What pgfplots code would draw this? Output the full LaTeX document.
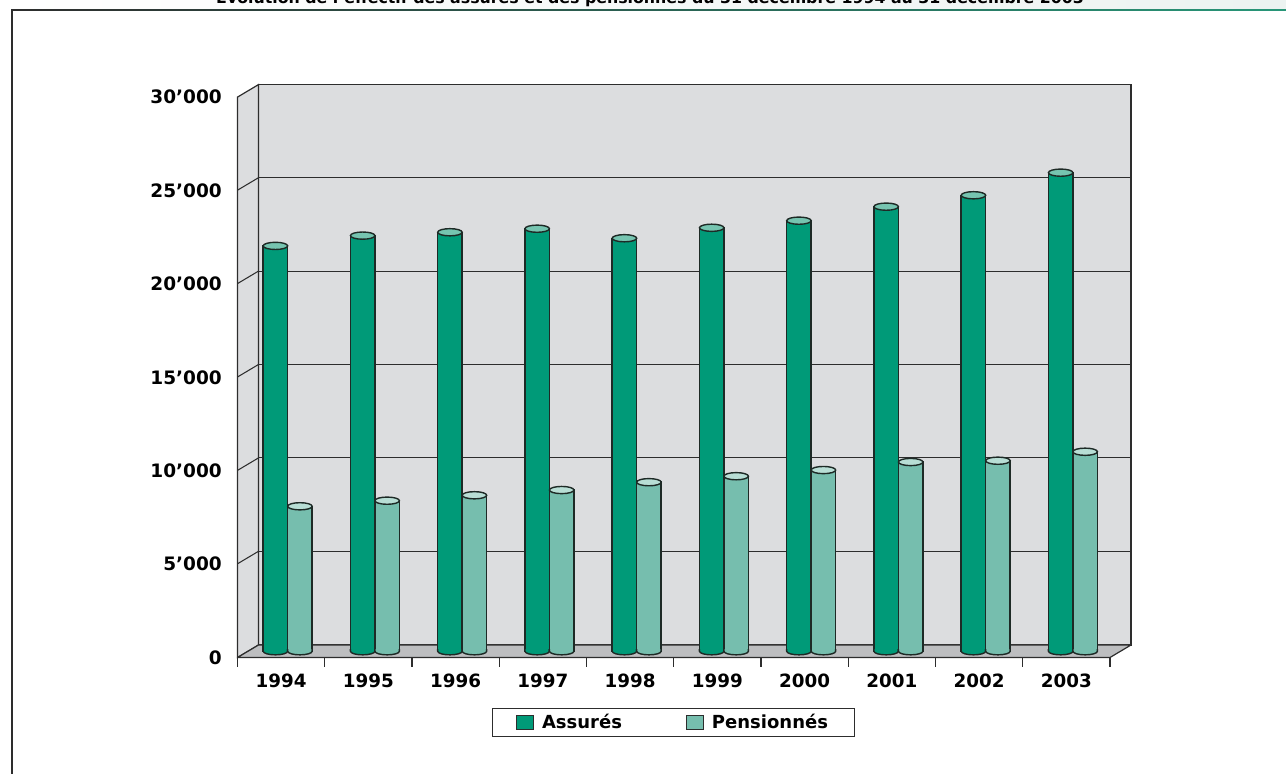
\documentclass[border=0pt]{standalone}
\usepackage{pgfplots}
\pgfplotsset{compat=1.18}
\usepackage{pgfplotstable}
\usepackage{fontspec}
\setmainfont{DejaVu Sans}

\definecolor{assur}{RGB}{0,154,120}
\definecolor{assurtop}{RGB}{118,196,176}
\definecolor{pens}{RGB}{118,190,174}
\definecolor{penstop}{RGB}{184,222,213}
\definecolor{wall}{RGB}{220,221,223}
\definecolor{floorc}{RGB}{189,190,192}
\definecolor{edge}{RGB}{45,45,45}
\definecolor{cyledge}{RGB}{30,42,38}
\definecolor{bandmid}{RGB}{204,220,214}
\definecolor{bandright}{RGB}{236,243,241}
\definecolor{ruleteal}{RGB}{40,150,120}

% Effectif au 31 décembre
\pgfplotstableread{
annee assures pensionnes
1994  21700   7760
1995  22250   8060
1996  22430   8350
1997  22620   8630
1998  22110   9050
1999  22670   9370
2000  23050   9700
2001  23800  10130
2002  24410  10200
2003  25620  10680
}\effectifs

% cylinder caps
\pgfdeclareplotmark{cyltop}{%
  \pgfpathellipse{\pgfpointorigin}{\pgfpoint{12.25pt}{0pt}}{\pgfpoint{0pt}{3.6pt}}%
  \pgfusepathqfillstroke}
\pgfdeclareplotmark{cylbot}{%
  \pgfpathmoveto{\pgfpoint{-12.25pt}{2pt}}%
  \pgfpathlineto{\pgfpoint{-12.25pt}{0pt}}%
  \pgfpatharc{180}{360}{12.25pt and 3.6pt}%
  \pgfpathlineto{\pgfpoint{12.25pt}{2pt}}%
  \pgfpathclose
  \pgfusepathqfill
  \pgfpathmoveto{\pgfpoint{-12.25pt}{2pt}}%
  \pgfpathlineto{\pgfpoint{-12.25pt}{0pt}}%
  \pgfpatharc{180}{360}{12.25pt and 3.6pt}%
  \pgfpathlineto{\pgfpoint{12.25pt}{2pt}}%
  \pgfusepathqstroke}

\newcommand\xfont{\fontsize{18.3}{21}\selectfont\bfseries}
\newcommand\yfont{\fontsize{18.5}{21}\selectfont\bfseries}
\newcommand\legfont{\fontsize{18}{21}\selectfont\bfseries}

\begin{document}
\begin{tikzpicture}
\useasboundingbox (0pt,0pt) rectangle (1286pt,774pt);
\begin{scope}[x=1pt,y=1pt]
  % heading band and frame
  \shade[left color=white, middle color=bandmid, right color=bandright] (0,764) rectangle (1286,774);
  \node[anchor=base, inner sep=0pt] at (650,770.5)
    {\fontsize{15.8}{18}\selectfont\bfseries Evolution de l’effectif des assurés et des pensionnés du 31 décembre 1994 au 31 décembre 2003};
  \shade[left color=edge, right color=ruleteal] (11.3,763) rectangle (1286,764.6);
  \fill[edge] (11.3,0) rectangle (12.9,764.6);
  % walls and floor
  \filldraw[fill=wall, draw=edge, line width=1.2pt] (258.5,129) rectangle (1131,689.4);
  \filldraw[fill=wall, draw=edge, line width=1.2pt]
    (237.5,116.5) -- (258.5,129) -- (258.5,689.4) -- (237.5,676.9) -- cycle;
  \foreach \k in {1,...,5} {
    \pgfmathsetmacro\Y{129.3+93.4*\k}
    \draw[edge, line width=1.15pt] (258.5,\Y) -- (1131,\Y);
    \draw[edge, line width=1.05pt] (237.5,\Y-12.5) -- (258.5,\Y);
  }
  \filldraw[fill=floorc, draw=edge, line width=1.2pt, line join=round]
    (237.5,116.5) -- (1110,116.5) -- (1131,129) -- (258.5,129) -- cycle;
  \foreach \k in {0,...,10}
    \draw[edge, line width=1.2pt] (237.5+87.25*\k,116.5) -- (237.5+87.25*\k,107);
\end{scope}

\begin{axis}[
  at={(248pt,122.75pt)}, anchor=south west,
  scale only axis, width=872.5pt, height=560.4pt,
  xmin=-0.5, xmax=9.5, ymin=0, ymax=30000,
  clip=false,
  axis line style={draw=none}, major tick length=0pt, tick style={draw=none},
  scaled y ticks=false,
  /pgf/number format/assume math mode=true,
  xtick={0,...,9},
  xticklabels={1994,1995,1996,1997,1998,1999,2000,2001,2002,2003},
  xticklabel style={font=\xfont, anchor=north, inner sep=0pt, xshift=-10.5pt, yshift=-22pt},
  ytick={0,5000,10000,15000,20000,25000,30000},
  yticklabels={0,5’000,10’000,15’000,20’000,25’000,30’000},
  yticklabel style={font=\yfont, anchor=east, inner sep=0pt, xshift=-26pt, yshift=-6.25pt},
  legend columns=2,
  legend style={at={(axis description cs:0.4871,-0.1266)}, anchor=center,
    draw=edge, line width=1pt, font=\legfont, inner xsep=24pt, inner ysep=4pt,
    /tikz/every odd column/.append style={column sep=6pt},
    /tikz/every even column/.append style={column sep=62pt}},
]
  \addplot[ybar, bar width=24.5pt, bar shift=-16.2pt, fill=assur, draw=cyledge, line width=1.4pt,
    legend image code/.code={\draw[fill=assur, draw=edge, line width=1pt] (0pt,-7pt) rectangle (17pt,7pt);}]
    table[x expr=\coordindex, y=assures] {\effectifs};
  \addlegendentry{Assurés}
  \addplot[ybar, bar width=24.5pt, bar shift=8.3pt, fill=pens, draw=cyledge, line width=1.4pt,
    legend image code/.code={\draw[fill=pens, draw=edge, line width=1pt] (0pt,-7pt) rectangle (17pt,7pt);}]
    table[x expr=\coordindex, y=pensionnes] {\effectifs};
  \addlegendentry{Pensionnés}
  % rounded bases and elliptic tops
  \addplot[forget plot, only marks, mark=cylbot, mark options={fill=assur, draw=cyledge, line width=1.4pt}]
    table[x expr=\coordindex-0.18567, y expr=0] {\effectifs};
  \addplot[forget plot, only marks, mark=cylbot, mark options={fill=pens, draw=cyledge, line width=1.4pt}]
    table[x expr=\coordindex+0.09513, y expr=0] {\effectifs};
  \addplot[forget plot, only marks, mark=cyltop, mark options={fill=assurtop, draw=cyledge, line width=1.4pt}]
    table[x expr=\coordindex-0.18567, y=assures] {\effectifs};
  \addplot[forget plot, only marks, mark=cyltop, mark options={fill=penstop, draw=cyledge, line width=1.4pt}]
    table[x expr=\coordindex+0.09513, y=pensionnes] {\effectifs};
\end{axis}
\end{tikzpicture}
\end{document}
